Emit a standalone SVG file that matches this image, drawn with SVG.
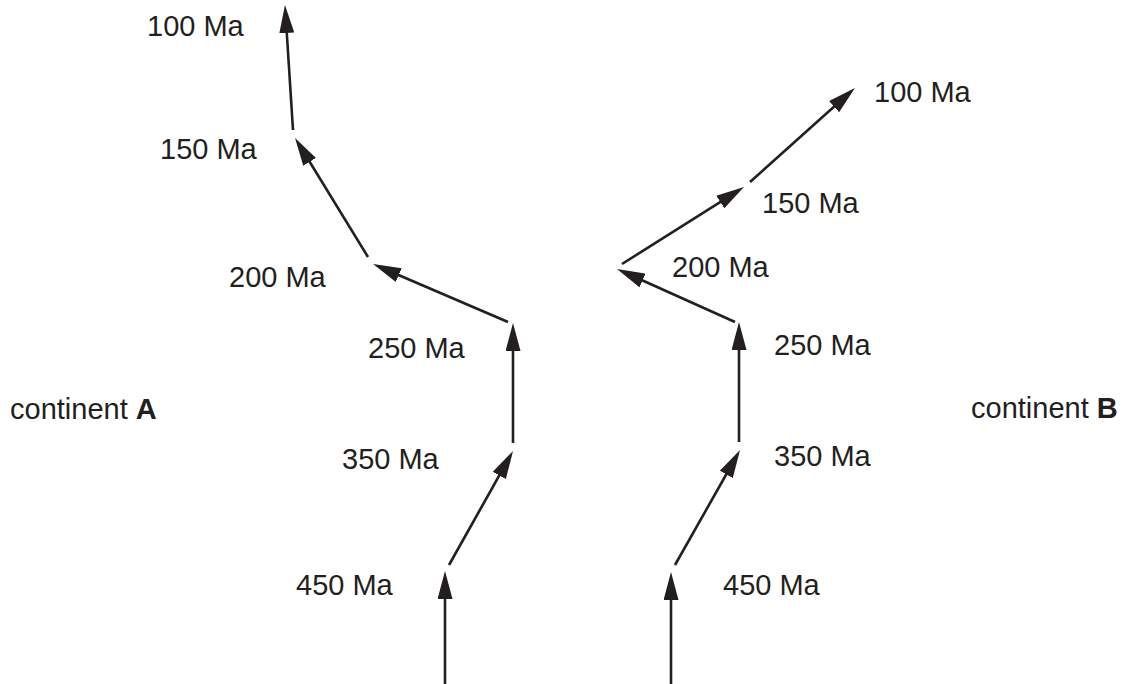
<svg xmlns="http://www.w3.org/2000/svg" width="1125" height="684" viewBox="0 0 1125 684">
  <style>
    .lbl { font-family: "Liberation Sans", Arial, Helvetica, sans-serif; font-size: 29px; fill: #231f20; }
    .b { font-weight: bold; }
    .seg { stroke: #231f20; stroke-width: 2.6; fill: none; marker-end: url(#head); }
  </style>
  <defs>
    <marker id="head" markerUnits="userSpaceOnUse" markerWidth="28" markerHeight="15" refX="20" refY="7.5" orient="auto" viewBox="0 0 28 15">
      <path d="M0,0 L28,7.5 L0,15 Z" fill="#231f20"/>
    </marker>
  </defs>
  <rect width="1125" height="684" fill="#ffffff"/>

  <!-- drift path segments -->
  <g id="connectors">
    <!-- continent A -->
    <line class="seg" x1="445" y1="684" x2="445" y2="579"/>
    <line class="seg" x1="449" y1="565" x2="509.1" y2="458"/>
    <line class="seg" x1="513" y1="443" x2="513" y2="331"/>
    <line class="seg" x1="508" y1="322" x2="380.4" y2="267.2"/>
    <line class="seg" x1="368" y1="257" x2="299.2" y2="144.8"/>
    <line class="seg" x1="293" y1="130" x2="285.5" y2="13"/>
    <!-- continent B -->
    <line class="seg" x1="671" y1="684" x2="671" y2="580"/>
    <line class="seg" x1="675" y1="565" x2="736.1" y2="457"/>
    <line class="seg" x1="739" y1="442" x2="739" y2="330"/>
    <line class="seg" x1="735" y1="322" x2="624.3" y2="272.3"/>
    <line class="seg" x1="622" y1="264" x2="737.2" y2="191.3"/>
    <line class="seg" x1="750" y1="182" x2="849" y2="93.3"/>
  </g>

  <g id="contA"><text class="lbl" x="10" y="419">continent <tspan class="b">A</tspan></text></g>
  <g id="contB"><text class="lbl" x="971" y="418">continent <tspan class="b">B</tspan></text></g>

  <g id="a100"><text class="lbl" x="147" y="36">100 Ma</text></g>
  <g id="a150"><text class="lbl" x="160" y="159">150 Ma</text></g>
  <g id="a200"><text class="lbl" x="229" y="287">200 Ma</text></g>
  <g id="a250"><text class="lbl" x="368" y="358">250 Ma</text></g>
  <g id="a350"><text class="lbl" x="342" y="469">350 Ma</text></g>
  <g id="a450"><text class="lbl" x="296" y="595">450 Ma</text></g>

  <g id="b100"><text class="lbl" x="874" y="102">100 Ma</text></g>
  <g id="b150"><text class="lbl" x="762" y="213">150 Ma</text></g>
  <g id="b200"><text class="lbl" x="672" y="277">200 Ma</text></g>
  <g id="b250"><text class="lbl" x="774" y="355">250 Ma</text></g>
  <g id="b350"><text class="lbl" x="774" y="466">350 Ma</text></g>
  <g id="b450"><text class="lbl" x="723" y="595">450 Ma</text></g>
</svg>
